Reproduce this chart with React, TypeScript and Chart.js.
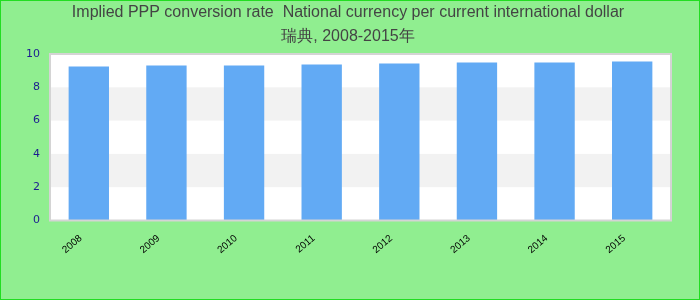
import React, { useEffect, useRef } from "react";
import { Chart, registerables } from "chart.js";

Chart.register(...registerables);

const years = ["2008", "2009", "2010", "2011", "2012", "2013", "2014", "2015"];
const pppRate = [9.25, 9.31, 9.31, 9.37, 9.43, 9.49, 9.49, 9.55];
const yTicks = [0, 2, 4, 6, 8, 10];
const grayBands: [number, number][] = [
  [2, 4],
  [6, 8],
];
const titleLines = [
  "Implied PPP conversion rate  National currency per current international dollar",
  "瑞典, 2008-2015年",
];

const plotBg = {
  id: "plotBg",
  beforeDraw(chart: any) {
    const { ctx, chartArea } = chart;
    const y = chart.scales.y;
    ctx.save();
    ctx.fillStyle = "#ffffff";
    ctx.fillRect(chartArea.left, chartArea.top, chartArea.right - chartArea.left, chartArea.bottom - chartArea.top);
    ctx.fillStyle = "#f2f2f2";
    for (const [a, b] of grayBands) {
      const y1 = y.getPixelForValue(b);
      const y2 = y.getPixelForValue(a);
      ctx.fillRect(chartArea.left, y1, chartArea.right - chartArea.left, y2 - y1);
    }
    ctx.restore();
  },
  afterDraw(chart: any) {
    const { ctx, chartArea } = chart;
    ctx.save();
    ctx.strokeStyle = "#d4d4d4";
    ctx.lineWidth = 2;
    ctx.strokeRect(chartArea.left, chartArea.top, chartArea.right - chartArea.left, chartArea.bottom - chartArea.top);
    ctx.restore();
  },
};

export default function App() {
  const ref = useRef<HTMLCanvasElement | null>(null);
  useEffect(() => {
    document.body.style.margin = "0";
    if (!ref.current) return;
    const chart = new Chart(ref.current, {
      type: "bar",
      data: {
        labels: years,
        datasets: [
          {
            data: pppRate,
            backgroundColor: "#62aaf4",
            borderWidth: 0,
            barPercentage: 0.52,
            categoryPercentage: 1,
          },
        ],
      },
      plugins: [plotBg],
      options: {
        animation: false,
        responsive: true,
        maintainAspectRatio: false,
        layout: { padding: { left: 24, right: 28, top: 0, bottom: 31 } },
        plugins: {
          legend: { display: false },
          tooltip: { enabled: false },
          title: {
            display: true,
            text: titleLines,
            color: "#444444",
            font: { family: "'Liberation Sans', Arial, sans-serif", size: 16, weight: "normal", lineHeight: 1.5 },
            padding: { top: 0, bottom: 5 },
          },
        },
        scales: {
          x: {
            grid: { display: false, drawTicks: false },
            border: { display: false },
            ticks: {
              color: "#000000",
              font: { family: "'Liberation Sans', Arial, sans-serif", size: 10 },
              minRotation: 40,
              maxRotation: 40,
              padding: 12,
              labelOffset: -8,
            },
          },
          y: {
            min: 0,
            max: 10,
            afterBuildTicks: (s: any) => {
              s.ticks = yTicks.map((v) => ({ value: v }));
            },
            afterFit: (s: any) => {
              s.width = 25;
            },
            grid: { display: false, drawTicks: false },
            border: { display: false },
            ticks: {
              color: "#1c1c8f",
              font: { family: "'DejaVu Sans', Verdana, sans-serif", size: 11 },
              padding: 10,
            },
          },
        },
      },
    });
    return () => chart.destroy();
  }, []);
  return (
    <div
      style={{
        width: 700,
        height: 300,
        boxSizing: "border-box",
        border: "1px solid #22dd22",
        background: "#90ee90",
        position: "relative",
      }}
    >
      <canvas ref={ref} />
    </div>
  );
}
